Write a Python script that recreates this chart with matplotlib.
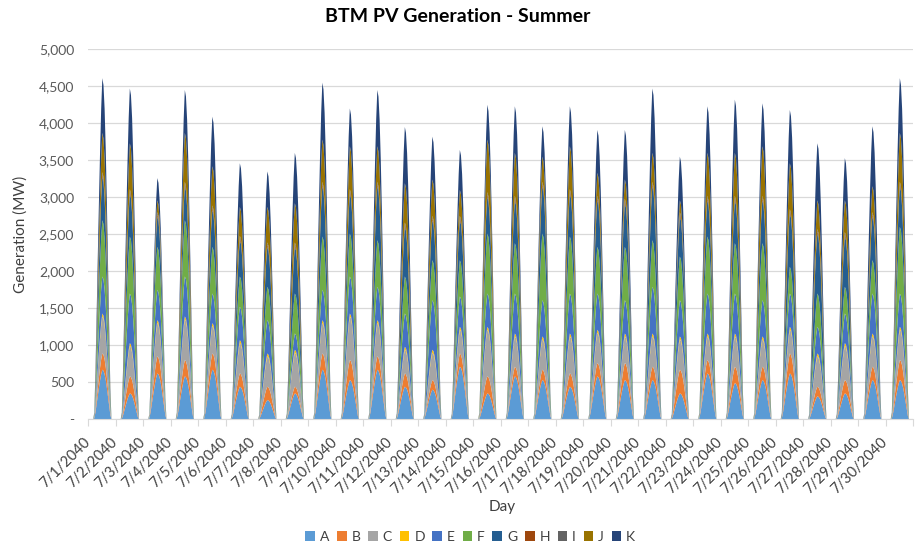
import numpy as np
import matplotlib
matplotlib.use("Agg")
import matplotlib.pyplot as plt

plt.rcParams["font.family"] = ["Lato", "DejaVu Sans"]

days = [f"7/{d}/2040" for d in range(1, 31)]
series = ["A", "B", "C", "D", "E", "F", "G", "H", "I", "J", "K"]
colors = ["#5B9BD5", "#ED7D31", "#A5A5A5", "#FFC000", "#4472C4", "#70AD47",
          "#255E91", "#9E480E", "#636363", "#997300", "#264478"]

# hourly shape of a day (fraction of that day's midday peak)
hour_shape = [0, 0, 0, 0, 0, 0.02, 0.14, 0.30, 0.47, 0.63, 0.78, 0.91,
              1.0, 0.98, 0.91, 0.79, 0.63, 0.45, 0.27, 0.09, 0, 0, 0, 0]

# midday peak of each series per day (MW)
peak_A = [670, 350, 620, 580, 670, 440, 260, 350, 670, 530, 670, 440, 400, 710, 350,
          580, 530, 440, 580, 530, 530, 350, 620, 490, 530, 620, 310, 350, 530, 530]
peak_B = [220, 230, 230, 220, 220, 180, 180, 90, 220, 270, 180, 180, 130, 180, 230,
          130, 140, 180, 180, 230, 180, 320, 180, 220, 180, 270, 130, 180, 180, 270]
peak_C = [500, 410, 450, 550, 370, 410, 410, 460, 410, 590, 450, 320, 370, 320, 630,
          410, 410, 500, 410, 360, 410, 410, 320, 410, 370, 320, 410, 460, 410, 410]
peak_D = [40, 40, 40, 40, 40, 40, 40, 40, 40, 40, 40, 40, 40, 40, 40,
          40, 40, 40, 40, 40, 40, 40, 40, 40, 40, 40, 40, 40, 40, 40]
peak_E = [500, 670, 410, 540, 400, 450, 450, 220, 410, 500, 450, 450, 670, 410, 450,
          540, 490, 540, 490, 450, 630, 490, 540, 540, 490, 450, 360, 400, 540, 450]
peak_F = [760, 770, 580, 760, 630, 410, 450, 540, 720, 580, 630, 500, 540, 490, 810,
          680, 900, 770, 630, 720, 630, 590, 770, 680, 770, 360, 450, 360, 450, 900]
peak_G = [590, 580, 410, 460, 500, 490, 540, 630, 680, 540, 730, 670, 540, 540, 500,
          580, 640, 580, 630, 590, 730, 540, 490, 580, 580, 720, 810, 680, 590, 550]
peak_H = [30, 30, 30, 30, 30, 30, 30, 30, 30, 30, 30, 30, 30, 30, 30,
          30, 30, 30, 30, 30, 30, 30, 30, 30, 30, 30, 30, 30, 30, 30]
peak_I = [30, 30, 30, 30, 30, 30, 30, 30, 30, 30, 30, 30, 30, 30, 30,
          30, 30, 30, 30, 30, 30, 30, 30, 30, 30, 30, 30, 30, 30, 30]
peak_J = [530, 620, 160, 660, 530, 390, 480, 530, 570, 580, 480, 530, 490, 350, 710,
          580, 340, 580, 310, 260, 390, 160, 580, 580, 670, 620, 390, 430, 350, 660]
peak_K = [740, 740, 300, 580, 670, 590, 480, 680, 770, 510, 760, 760, 580, 540, 470,
          630, 410, 540, 580, 670, 870, 590, 630, 720, 580, 720, 770, 570, 810, 740]

peaks = [peak_A, peak_B, peak_C, peak_D, peak_E, peak_F,
         peak_G, peak_H, peak_I, peak_J, peak_K]

shape = np.array(hour_shape)
hourly = [np.concatenate([p * shape for p in pk]) for pk in peaks]
x = np.arange(len(hourly[0]))

fig = plt.figure(figsize=(9.15, 5.5), dpi=100)
ax = fig.add_axes([88 / 915, 130.7 / 550, 825 / 915, 370 / 550])
ax.stackplot(x, *hourly, colors=colors, labels=series, linewidth=0)

ax.set_xlim(-0.5, len(x) - 0.5)
ax.set_ylim(0, 5000)
yt = np.arange(0, 5001, 500)
ax.set_yticks(yt)
ax.set_yticklabels(["-"] + [f"{v:,}" for v in yt[1:]])
ax.grid(axis="y", color="#D9D9D9", linewidth=0.9)
ax.set_axisbelow(True)

tick_pos = np.arange(31) * 24 - 0.5
ax.set_xticks(tick_pos)
ax.set_xticklabels(days + [""], rotation=45, ha="right", va="center",
                   rotation_mode="anchor")
for s in ["top", "right", "left"]:
    ax.spines[s].set_visible(False)
ax.spines["bottom"].set_color("#D9D9D9")
ax.tick_params(axis="x", length=5, color="#D9D9D9", labelsize=10.5,
               labelcolor="#404040", pad=10)
ax.tick_params(axis="y", length=0, labelsize=10, labelcolor="#595959", pad=10)

fig.text(502 / 915, 1 - 507 / 550, "Day", fontsize=11, color="#404040",
         ha="center", va="center")
ax.set_ylabel("Generation (MW)", fontsize=11, color="#404040", labelpad=8)
fig.suptitle("BTM PV Generation - Summer", fontsize=14, fontweight="bold",
             color="#000000", y=0.985)

fig.legend(*ax.get_legend_handles_labels(), loc="center", ncol=11,
           bbox_to_anchor=(0.514, 0.024), frameon=False, fontsize=10,
           handlelength=0.7, handleheight=0.7, handletextpad=0.35,
           columnspacing=0.55, labelcolor="#404040")

fig.savefig("out.png", dpi=100)
